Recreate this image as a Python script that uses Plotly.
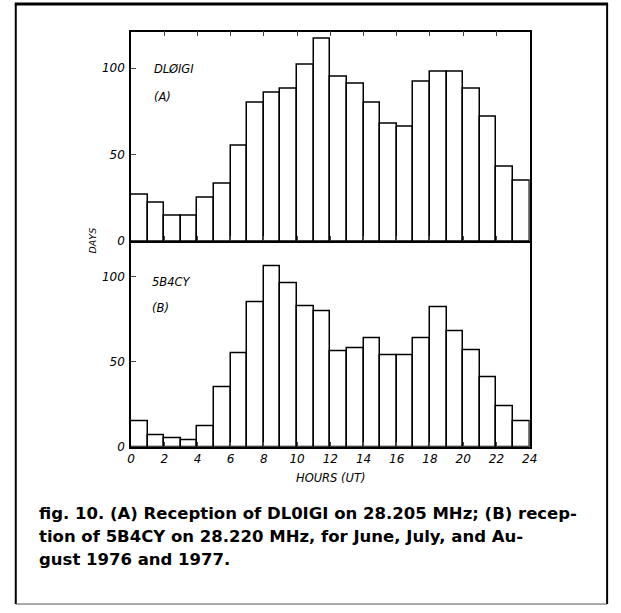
import plotly.graph_objects as go

W, H = 621, 613

hours = [h + 0.5 for h in range(24)]
dl0igi_days = [27, 22, 15, 15, 25, 33, 55, 80, 86, 88, 102, 117,
               95, 91, 80, 68, 66, 92, 98, 98, 88, 72, 43, 35]
c5b4cy_days = [15, 7, 5, 4, 12, 35, 55, 85, 106, 96, 83, 80,
               56, 58, 64, 54, 54, 64, 82, 68, 57, 41, 24, 15]
x_tick_vals = list(range(0, 25, 2))
x_tick_text = ["0", "2", "4", "6", "8", "10", "12", "14", "16", "18", "20", "22", "24"]
y_tick_vals = [0, 50, 100]
y_tick_text = ["0", "50", "100"]

caption_lines = [
    "fig. 10. (A) Reception of DL0IGI on 28.205 MHz; (B) recep-",
    "tion of 5B4CY on 28.220 MHz, for June, July, and Au-",
    "gust 1976 and 1977.",
]

def px(x):
    return x / W

def py(y):
    return 1 - y / H

fig = go.Figure()
bar_style = dict(marker=dict(color="white", line=dict(color="black", width=1.5)),
                 width=1, showlegend=False)
fig.add_trace(go.Bar(x=hours, y=dl0igi_days, xaxis="x", yaxis="y", **bar_style))
fig.add_trace(go.Bar(x=hours, y=c5b4cy_days, xaxis="x2", yaxis="y2", **bar_style))

tickfont = dict(family="DejaVu Sans", size=12, color="black", style="italic")
xl, xr = px(129.5), px(536)
common_x = dict(range=[0, 24], tickvals=x_tick_vals, ticks="inside", ticklen=5,
                tickwidth=1.3, showline=True, linewidth=1.5, linecolor="black",
                showgrid=False, zeroline=False, domain=[xl, xr],
                tickfont=tickfont)
common_y = dict(range=[0, 121], tickvals=y_tick_vals, ticktext=y_tick_text,
                ticks="inside", ticklen=5, tickwidth=1.3, showline=True,
                linewidth=1.5, linecolor="black", mirror=True, showgrid=False,
                zeroline=False, tickfont=tickfont, ticklabelstandoff=2)

fig.update_layout(
    width=W, height=H, margin=dict(l=0, r=0, t=0, b=0),
    paper_bgcolor="white", plot_bgcolor="white", bargap=0,
    xaxis=dict(anchor="y", showticklabels=False, mirror="ticks", **common_x),
    yaxis=dict(anchor="x", domain=[py(244), py(32)], **common_y),
    xaxis2=dict(anchor="y2", ticktext=x_tick_text, mirror=False, **common_x),
    yaxis2=dict(anchor="x2", domain=[py(452), py(244)], **common_y),
)

anns = []
lab = dict(family="DejaVu Sans", size=11.5, color="black", style="italic")
anns.append(dict(text="DLØIGI", x=px(151), y=py(70), xref="paper", yref="paper",
                 xanchor="left", yanchor="middle", showarrow=False, font=lab))
anns.append(dict(text="(A)", x=px(151), y=py(98), xref="paper", yref="paper",
                 xanchor="left", yanchor="middle", showarrow=False, font=lab))
anns.append(dict(text="5B4CY", x=px(149), y=py(285), xref="paper", yref="paper",
                 xanchor="left", yanchor="middle", showarrow=False, font=lab))
anns.append(dict(text="(B)", x=px(149), y=py(312), xref="paper", yref="paper",
                 xanchor="left", yanchor="middle", showarrow=False, font=lab))
anns.append(dict(text="DAYS", x=px(90), y=py(243), xref="paper", yref="paper",
                 xanchor="center", yanchor="middle", showarrow=False, textangle=-90,
                 font=dict(family="DejaVu Sans", size=9.5, color="black", style="italic")))
anns.append(dict(text="HOURS (UT)", x=px(333), y=py(484), xref="paper", yref="paper",
                 xanchor="center", yanchor="middle", showarrow=False,
                 font=dict(family="DejaVu Sans", size=11.5, color="black", style="italic")))
for i, line in enumerate(caption_lines):
    anns.append(dict(text="<b>" + line + "</b>", x=px(34), y=py(519 + 23.5 * i),
                     xref="paper", yref="paper", xanchor="left", yanchor="middle",
                     showarrow=False,
                     font=dict(family="DejaVu Sans", size=16.5, color="black")))
fig.update_layout(annotations=anns)

shapes = [
    dict(type="line", xref="paper", yref="paper", x0=px(11), x1=px(616), y0=py(4), y1=py(4),
         line=dict(color="black", width=3)),
    dict(type="line", xref="paper", yref="paper", x0=px(12), x1=px(12), y0=py(4), y1=py(611),
         line=dict(color="black", width=2)),
    dict(type="line", xref="paper", yref="paper", x0=px(615), x1=px(615), y0=py(4), y1=py(611),
         line=dict(color="black", width=2)),
    dict(type="line", xref="paper", yref="paper", x0=px(12), x1=px(615), y0=py(611), y1=py(611),
         line=dict(color="#555555", width=1)),
]
fig.update_layout(shapes=shapes)

fig.write_html("out.html", config={"displayModeBar": False},
               post_script="document.body.style.margin='0';document.body.style.overflow='hidden';")
